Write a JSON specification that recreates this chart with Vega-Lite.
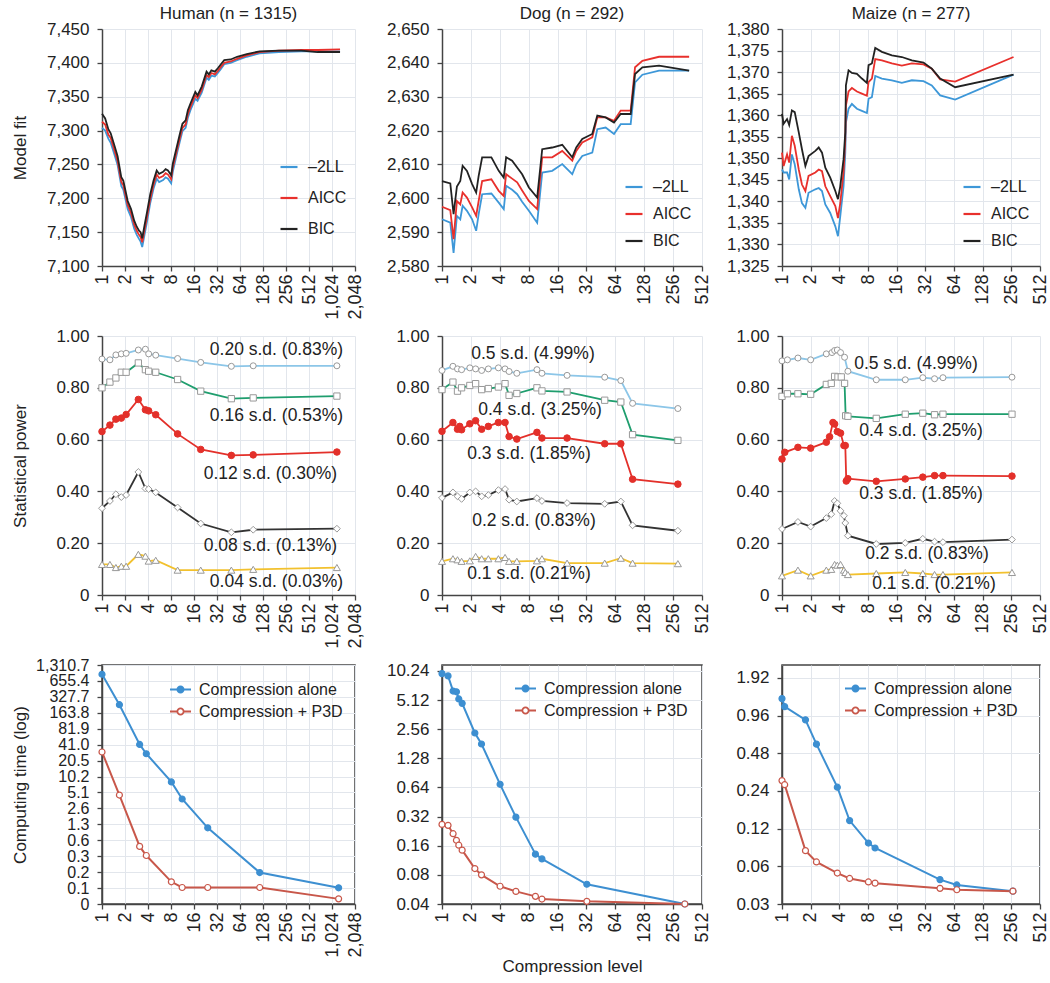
{
"$schema": "https://vega.github.io/schema/vega-lite/v6.json",
"padding": {"left": 10, "top": 5, "right": 5, "bottom": 5},
"background": "white",
"columns": 3,
"bounds": "flush",
"align": {"row": "each", "column": "all"},
"spacing": {"row": 70, "column": 80},
"resolve": {"scale": {"color": "independent", "fill": "independent", "stroke": "independent", "shape": "independent", "size": "independent"}, "legend": {"color": "independent"}},
"config": {
  "font": "Liberation Sans",
  "view": {"stroke": null},
  "axis": {"labelFontSize": 17, "titleFontSize": 17, "labelColor": "#222", "titleColor": "#222", "titleFontWeight": "normal", "domainColor": "#444", "domainWidth": 1.5, "tickColor": "#444", "tickSize": 5, "tickWidth": 1.3, "gridColor": "#e2e6ec", "gridWidth": 1, "labelFlush": false, "labelOverlap": false, "labelBound": false},
  "axisX": {"labelAngle": -90, "labelFontSize": 18, "labelPadding": 3},
  "axisY": {"labelPadding": 8},
  "title": {"fontSize": 17, "fontWeight": "normal", "color": "#222", "offset": -3, "frame": "group"},
  "legend": {"labelFontSize": 16, "labelColor": "#222", "padding": 0}
},
"concat": [
{
  "width": 253, "height": 237,
  "title": "Human (n = 1315)",
  "data": {"values": [
    {"x":1,"y":7304,"s":"–2LL"},{"x":1.1,"y":7300,"s":"–2LL"},{"x":1.21,"y":7288,"s":"–2LL"},{"x":1.3,"y":7282,"s":"–2LL"},{"x":1.47,"y":7263,"s":"–2LL"},{"x":1.6,"y":7249,"s":"–2LL"},{"x":1.79,"y":7218,"s":"–2LL"},{"x":1.9,"y":7213,"s":"–2LL"},{"x":2.17,"y":7184,"s":"–2LL"},{"x":2.4,"y":7172,"s":"–2LL"},{"x":2.64,"y":7155,"s":"–2LL"},{"x":2.85,"y":7146,"s":"–2LL"},{"x":3.05,"y":7140,"s":"–2LL"},{"x":3.2,"y":7136,"s":"–2LL"},{"x":3.36,"y":7128,"s":"–2LL"},{"x":3.6,"y":7146,"s":"–2LL"},{"x":3.89,"y":7166,"s":"–2LL"},{"x":4.28,"y":7193,"s":"–2LL"},{"x":4.72,"y":7214,"s":"–2LL"},{"x":5.2,"y":7229,"s":"–2LL"},{"x":5.6,"y":7224,"s":"–2LL"},{"x":6.31,"y":7227,"s":"–2LL"},{"x":6.8,"y":7231,"s":"–2LL"},{"x":7.3,"y":7229,"s":"–2LL"},{"x":8.04,"y":7222,"s":"–2LL"},{"x":8.44,"y":7239,"s":"–2LL"},{"x":9.76,"y":7270,"s":"–2LL"},{"x":10.5,"y":7285,"s":"–2LL"},{"x":11.29,"y":7299,"s":"–2LL"},{"x":12.43,"y":7304,"s":"–2LL"},{"x":13.3,"y":7319,"s":"–2LL"},{"x":14.38,"y":7330,"s":"–2LL"},{"x":16.64,"y":7347,"s":"–2LL"},{"x":17.8,"y":7344,"s":"–2LL"},{"x":20.19,"y":7356,"s":"–2LL"},{"x":23.35,"y":7378,"s":"–2LL"},{"x":25,"y":7375,"s":"–2LL"},{"x":27,"y":7381,"s":"–2LL"},{"x":30,"y":7380,"s":"–2LL"},{"x":32.79,"y":7385,"s":"–2LL"},{"x":36,"y":7391,"s":"–2LL"},{"x":39.8,"y":7398,"s":"–2LL"},{"x":48.3,"y":7400,"s":"–2LL"},{"x":58.6,"y":7404,"s":"–2LL"},{"x":78.5,"y":7409,"s":"–2LL"},{"x":115.6,"y":7414,"s":"–2LL"},{"x":206.8,"y":7416,"s":"–2LL"},{"x":407.6,"y":7417,"s":"–2LL"},{"x":662,"y":7417,"s":"–2LL"},{"x":1305,"y":7417,"s":"–2LL"},
    {"x":1,"y":7313,"s":"AICC"},{"x":1.1,"y":7309,"s":"AICC"},{"x":1.21,"y":7294,"s":"AICC"},{"x":1.3,"y":7289,"s":"AICC"},{"x":1.47,"y":7269,"s":"AICC"},{"x":1.6,"y":7255,"s":"AICC"},{"x":1.79,"y":7224,"s":"AICC"},{"x":1.9,"y":7219,"s":"AICC"},{"x":2.17,"y":7190,"s":"AICC"},{"x":2.4,"y":7178,"s":"AICC"},{"x":2.64,"y":7161,"s":"AICC"},{"x":2.85,"y":7152,"s":"AICC"},{"x":3.05,"y":7146,"s":"AICC"},{"x":3.2,"y":7143,"s":"AICC"},{"x":3.36,"y":7135,"s":"AICC"},{"x":3.6,"y":7153,"s":"AICC"},{"x":3.89,"y":7173,"s":"AICC"},{"x":4.28,"y":7199,"s":"AICC"},{"x":4.72,"y":7220,"s":"AICC"},{"x":5.2,"y":7235,"s":"AICC"},{"x":5.6,"y":7230,"s":"AICC"},{"x":6.31,"y":7233,"s":"AICC"},{"x":6.8,"y":7237,"s":"AICC"},{"x":7.3,"y":7235,"s":"AICC"},{"x":8.04,"y":7228,"s":"AICC"},{"x":8.44,"y":7245,"s":"AICC"},{"x":9.76,"y":7275,"s":"AICC"},{"x":10.5,"y":7290,"s":"AICC"},{"x":11.29,"y":7304,"s":"AICC"},{"x":12.43,"y":7309,"s":"AICC"},{"x":13.3,"y":7324,"s":"AICC"},{"x":14.38,"y":7335,"s":"AICC"},{"x":16.64,"y":7352,"s":"AICC"},{"x":17.8,"y":7348,"s":"AICC"},{"x":20.19,"y":7360,"s":"AICC"},{"x":23.35,"y":7382,"s":"AICC"},{"x":25,"y":7379,"s":"AICC"},{"x":27,"y":7385,"s":"AICC"},{"x":30,"y":7383,"s":"AICC"},{"x":32.79,"y":7388,"s":"AICC"},{"x":36,"y":7394,"s":"AICC"},{"x":39.8,"y":7400,"s":"AICC"},{"x":48.3,"y":7402,"s":"AICC"},{"x":58.6,"y":7406,"s":"AICC"},{"x":78.5,"y":7411,"s":"AICC"},{"x":115.6,"y":7416,"s":"AICC"},{"x":206.8,"y":7418,"s":"AICC"},{"x":407.6,"y":7419,"s":"AICC"},{"x":662,"y":7419,"s":"AICC"},{"x":1305,"y":7420,"s":"AICC"},
    {"x":1,"y":7325,"s":"BIC"},{"x":1.1,"y":7318,"s":"BIC"},{"x":1.21,"y":7302,"s":"BIC"},{"x":1.3,"y":7296,"s":"BIC"},{"x":1.47,"y":7276,"s":"BIC"},{"x":1.6,"y":7262,"s":"BIC"},{"x":1.79,"y":7231,"s":"BIC"},{"x":1.9,"y":7226,"s":"BIC"},{"x":2.17,"y":7196,"s":"BIC"},{"x":2.4,"y":7184,"s":"BIC"},{"x":2.64,"y":7167,"s":"BIC"},{"x":2.85,"y":7158,"s":"BIC"},{"x":3.05,"y":7152,"s":"BIC"},{"x":3.2,"y":7150,"s":"BIC"},{"x":3.36,"y":7141,"s":"BIC"},{"x":3.6,"y":7160,"s":"BIC"},{"x":3.89,"y":7180,"s":"BIC"},{"x":4.28,"y":7206,"s":"BIC"},{"x":4.72,"y":7226,"s":"BIC"},{"x":5.2,"y":7241,"s":"BIC"},{"x":5.6,"y":7236,"s":"BIC"},{"x":6.31,"y":7239,"s":"BIC"},{"x":6.8,"y":7243,"s":"BIC"},{"x":7.3,"y":7241,"s":"BIC"},{"x":8.04,"y":7234,"s":"BIC"},{"x":8.44,"y":7251,"s":"BIC"},{"x":9.76,"y":7281,"s":"BIC"},{"x":10.5,"y":7296,"s":"BIC"},{"x":11.29,"y":7310,"s":"BIC"},{"x":12.43,"y":7315,"s":"BIC"},{"x":13.3,"y":7330,"s":"BIC"},{"x":14.38,"y":7340,"s":"BIC"},{"x":16.64,"y":7357,"s":"BIC"},{"x":17.8,"y":7352,"s":"BIC"},{"x":20.19,"y":7365,"s":"BIC"},{"x":23.35,"y":7387,"s":"BIC"},{"x":25,"y":7383,"s":"BIC"},{"x":27,"y":7389,"s":"BIC"},{"x":30,"y":7387,"s":"BIC"},{"x":32.79,"y":7392,"s":"BIC"},{"x":36,"y":7398,"s":"BIC"},{"x":39.8,"y":7404,"s":"BIC"},{"x":48.3,"y":7405,"s":"BIC"},{"x":58.6,"y":7409,"s":"BIC"},{"x":78.5,"y":7413,"s":"BIC"},{"x":115.6,"y":7417,"s":"BIC"},{"x":206.8,"y":7418,"s":"BIC"},{"x":407.6,"y":7418,"s":"BIC"},{"x":662,"y":7416,"s":"BIC"},{"x":1305,"y":7416,"s":"BIC"}
  ]},
  "mark": {"type": "line", "strokeWidth": 1.8},
  "encoding": {
    "x": {"field": "x", "type": "quantitative", "scale": {"type": "log", "base": 2, "domain": [1, 2048], "nice": false}, "axis": {"values": [1,2,4,8,16,32,64,128,256,512,1024,2048], "format": ",d", "title": null}},
    "y": {"field": "y", "type": "quantitative", "scale": {"domain": [7100, 7450], "nice": false, "zero": false}, "axis": {"values": [7100,7150,7200,7250,7300,7350,7400,7450], "format": ",.0f", "title": "Model fit", "titleX": -73}},
    "color": {"field": "s", "type": "nominal", "scale": {"domain": ["–2LL","AICC","BIC"], "range": ["#3d97d8","#e8302c","#222222"]}, "legend": {"orient": "none", "legendX": 177, "legendY": 128, "title": null, "symbolType": "stroke", "symbolSize": 289, "symbolStrokeWidth": 2.2, "rowPadding": 13, "labelOffset": 9}}
  }
},
{
  "width": 260, "height": 237,
  "title": "Dog (n = 292)",
  "data": {"values": [
    {"x":1,"y":2593.8,"s":"–2LL"},{"x":1.22,"y":2592.8,"s":"–2LL"},{"x":1.32,"y":2583.9,"s":"–2LL"},{"x":1.43,"y":2594.8,"s":"–2LL"},{"x":1.55,"y":2593.8,"s":"–2LL"},{"x":1.64,"y":2597.8,"s":"–2LL"},{"x":1.82,"y":2596.3,"s":"–2LL"},{"x":2.06,"y":2593.8,"s":"–2LL"},{"x":2.27,"y":2590.4,"s":"–2LL"},{"x":2.41,"y":2595.3,"s":"–2LL"},{"x":2.62,"y":2601.2,"s":"–2LL"},{"x":3.27,"y":2601.4,"s":"–2LL"},{"x":3.9,"y":2598.7,"s":"–2LL"},{"x":4.4,"y":2596.8,"s":"–2LL"},{"x":4.66,"y":2603.7,"s":"–2LL"},{"x":5.38,"y":2602.5,"s":"–2LL"},{"x":6.07,"y":2601.2,"s":"–2LL"},{"x":6.84,"y":2599,"s":"–2LL"},{"x":8.04,"y":2596.3,"s":"–2LL"},{"x":9.81,"y":2592.8,"s":"–2LL"},{"x":11.07,"y":2607.6,"s":"–2LL"},{"x":14.07,"y":2608.1,"s":"–2LL"},{"x":17.9,"y":2610.1,"s":"–2LL"},{"x":22.77,"y":2607.1,"s":"–2LL"},{"x":25.06,"y":2610.1,"s":"–2LL"},{"x":28.95,"y":2612.5,"s":"–2LL"},{"x":36.81,"y":2613.5,"s":"–2LL"},{"x":41.52,"y":2620.4,"s":"–2LL"},{"x":50.73,"y":2620.9,"s":"–2LL"},{"x":62,"y":2619,"s":"–2LL"},{"x":72.76,"y":2621.9,"s":"–2LL"},{"x":92.5,"y":2621.9,"s":"–2LL"},{"x":102.7,"y":2634.2,"s":"–2LL"},{"x":122.5,"y":2636.5,"s":"–2LL"},{"x":182.8,"y":2637.7,"s":"–2LL"},{"x":376,"y":2637.7,"s":"–2LL"},
    {"x":1,"y":2597.5,"s":"AICC"},{"x":1.22,"y":2596.5,"s":"AICC"},{"x":1.32,"y":2587.9,"s":"AICC"},{"x":1.43,"y":2599.2,"s":"AICC"},{"x":1.55,"y":2598.2,"s":"AICC"},{"x":1.64,"y":2601.7,"s":"AICC"},{"x":1.82,"y":2600.2,"s":"AICC"},{"x":2.06,"y":2597.3,"s":"AICC"},{"x":2.27,"y":2594.8,"s":"AICC"},{"x":2.41,"y":2599.2,"s":"AICC"},{"x":2.62,"y":2605.1,"s":"AICC"},{"x":3.27,"y":2605.6,"s":"AICC"},{"x":3.9,"y":2602.2,"s":"AICC"},{"x":4.4,"y":2600.7,"s":"AICC"},{"x":4.66,"y":2607.1,"s":"AICC"},{"x":5.38,"y":2605.8,"s":"AICC"},{"x":6.07,"y":2604.7,"s":"AICC"},{"x":6.84,"y":2602.3,"s":"AICC"},{"x":8.04,"y":2599.2,"s":"AICC"},{"x":9.81,"y":2596.8,"s":"AICC"},{"x":11.07,"y":2612.1,"s":"AICC"},{"x":14.07,"y":2612.1,"s":"AICC"},{"x":17.9,"y":2614,"s":"AICC"},{"x":22.77,"y":2611.1,"s":"AICC"},{"x":25.06,"y":2614,"s":"AICC"},{"x":28.95,"y":2616.5,"s":"AICC"},{"x":36.81,"y":2618,"s":"AICC"},{"x":41.52,"y":2623.9,"s":"AICC"},{"x":50.73,"y":2623.9,"s":"AICC"},{"x":62,"y":2622.9,"s":"AICC"},{"x":72.76,"y":2625.9,"s":"AICC"},{"x":92.5,"y":2625.9,"s":"AICC"},{"x":102.7,"y":2638.7,"s":"AICC"},{"x":122.5,"y":2640.6,"s":"AICC"},{"x":182.8,"y":2641.8,"s":"AICC"},{"x":376,"y":2641.8,"s":"AICC"},
    {"x":1,"y":2605.1,"s":"BIC"},{"x":1.22,"y":2604.4,"s":"BIC"},{"x":1.32,"y":2595.3,"s":"BIC"},{"x":1.43,"y":2603.5,"s":"BIC"},{"x":1.55,"y":2605.1,"s":"BIC"},{"x":1.64,"y":2609.6,"s":"BIC"},{"x":1.82,"y":2608.1,"s":"BIC"},{"x":2.06,"y":2604.2,"s":"BIC"},{"x":2.27,"y":2601.7,"s":"BIC"},{"x":2.41,"y":2606.6,"s":"BIC"},{"x":2.62,"y":2612.1,"s":"BIC"},{"x":3.27,"y":2612.1,"s":"BIC"},{"x":3.9,"y":2608.1,"s":"BIC"},{"x":4.4,"y":2606.1,"s":"BIC"},{"x":4.66,"y":2612.1,"s":"BIC"},{"x":5.38,"y":2611.1,"s":"BIC"},{"x":6.07,"y":2609.1,"s":"BIC"},{"x":6.84,"y":2607.1,"s":"BIC"},{"x":8.04,"y":2603.2,"s":"BIC"},{"x":9.81,"y":2600.2,"s":"BIC"},{"x":11.07,"y":2614.5,"s":"BIC"},{"x":14.07,"y":2615,"s":"BIC"},{"x":17.9,"y":2615.8,"s":"BIC"},{"x":22.77,"y":2612.1,"s":"BIC"},{"x":25.06,"y":2615,"s":"BIC"},{"x":28.95,"y":2617.5,"s":"BIC"},{"x":36.81,"y":2619,"s":"BIC"},{"x":41.52,"y":2624.4,"s":"BIC"},{"x":50.73,"y":2623.9,"s":"BIC"},{"x":62,"y":2622.4,"s":"BIC"},{"x":72.76,"y":2624.9,"s":"BIC"},{"x":92.5,"y":2624.9,"s":"BIC"},{"x":102.7,"y":2636.7,"s":"BIC"},{"x":122.5,"y":2638.7,"s":"BIC"},{"x":182.8,"y":2639.2,"s":"BIC"},{"x":376,"y":2637.7,"s":"BIC"}
  ]},
  "mark": {"type": "line", "strokeWidth": 1.8},
  "encoding": {
    "x": {"field": "x", "type": "quantitative", "scale": {"type": "log", "base": 2, "domain": [1, 512], "nice": false}, "axis": {"values": [1,2,4,8,16,32,64,128,256,512], "format": ",d", "title": null}},
    "y": {"field": "y", "type": "quantitative", "scale": {"domain": [2580, 2650], "nice": false, "zero": false}, "axis": {"values": [2580,2590,2600,2610,2620,2630,2640,2650], "format": ",.0f", "title": null}},
    "color": {"field": "s", "type": "nominal", "scale": {"domain": ["–2LL","AICC","BIC"], "range": ["#3d97d8","#e8302c","#222222"]}, "legend": {"orient": "none", "legendX": 182, "legendY": 148, "title": null, "symbolType": "stroke", "symbolSize": 289, "symbolStrokeWidth": 2.2, "rowPadding": 9, "labelOffset": 9}}
  }
},
{
  "width": 258, "height": 237,
  "title": "Maize (n = 277)",
  "data": {"values": [
    {"x":1,"y":1347.4,"s":"–2LL"},{"x":1.04,"y":1346.7,"s":"–2LL"},{"x":1.13,"y":1346.7,"s":"–2LL"},{"x":1.19,"y":1345.1,"s":"–2LL"},{"x":1.27,"y":1350.9,"s":"–2LL"},{"x":1.36,"y":1348.6,"s":"–2LL"},{"x":1.5,"y":1342.8,"s":"–2LL"},{"x":1.62,"y":1339.6,"s":"–2LL"},{"x":1.76,"y":1338.5,"s":"–2LL"},{"x":1.9,"y":1342,"s":"–2LL"},{"x":2.24,"y":1342.8,"s":"–2LL"},{"x":2.43,"y":1343.1,"s":"–2LL"},{"x":2.63,"y":1342.4,"s":"–2LL"},{"x":2.85,"y":1339.3,"s":"–2LL"},{"x":3.21,"y":1337.3,"s":"–2LL"},{"x":3.63,"y":1334.2,"s":"–2LL"},{"x":3.87,"y":1331.9,"s":"–2LL"},{"x":4.09,"y":1336.5,"s":"–2LL"},{"x":4.43,"y":1343.5,"s":"–2LL"},{"x":4.62,"y":1351.3,"s":"–2LL"},{"x":4.69,"y":1358.3,"s":"–2LL"},{"x":5,"y":1361.5,"s":"–2LL"},{"x":5.42,"y":1362.6,"s":"–2LL"},{"x":6.12,"y":1361.5,"s":"–2LL"},{"x":6.9,"y":1361,"s":"–2LL"},{"x":7.79,"y":1360.5,"s":"–2LL"},{"x":8.11,"y":1363.8,"s":"–2LL"},{"x":8.79,"y":1364.2,"s":"–2LL"},{"x":9.53,"y":1369.1,"s":"–2LL"},{"x":11.19,"y":1368.5,"s":"–2LL"},{"x":14.25,"y":1368.1,"s":"–2LL"},{"x":18.14,"y":1367.5,"s":"–2LL"},{"x":23.1,"y":1368.1,"s":"–2LL"},{"x":30.6,"y":1367.9,"s":"–2LL"},{"x":37.4,"y":1366.9,"s":"–2LL"},{"x":45.8,"y":1364.6,"s":"–2LL"},{"x":65.8,"y":1363.6,"s":"–2LL"},{"x":270,"y":1369.4,"s":"–2LL"},
    {"x":1,"y":1351.3,"s":"AICC"},{"x":1.04,"y":1348.2,"s":"AICC"},{"x":1.13,"y":1350.9,"s":"AICC"},{"x":1.19,"y":1349,"s":"AICC"},{"x":1.27,"y":1355.2,"s":"AICC"},{"x":1.36,"y":1352.9,"s":"AICC"},{"x":1.5,"y":1347.4,"s":"AICC"},{"x":1.62,"y":1343.9,"s":"AICC"},{"x":1.76,"y":1342.4,"s":"AICC"},{"x":1.9,"y":1345.9,"s":"AICC"},{"x":2.24,"y":1346.7,"s":"AICC"},{"x":2.43,"y":1347.4,"s":"AICC"},{"x":2.63,"y":1347,"s":"AICC"},{"x":2.85,"y":1343.5,"s":"AICC"},{"x":3.21,"y":1341.2,"s":"AICC"},{"x":3.63,"y":1338.9,"s":"AICC"},{"x":3.87,"y":1336.1,"s":"AICC"},{"x":4.09,"y":1339.6,"s":"AICC"},{"x":4.43,"y":1346.7,"s":"AICC"},{"x":4.62,"y":1354.4,"s":"AICC"},{"x":4.69,"y":1362.2,"s":"AICC"},{"x":5,"y":1365.5,"s":"AICC"},{"x":5.42,"y":1366.3,"s":"AICC"},{"x":6.12,"y":1365.5,"s":"AICC"},{"x":6.9,"y":1365,"s":"AICC"},{"x":7.79,"y":1364.5,"s":"AICC"},{"x":8.11,"y":1367.7,"s":"AICC"},{"x":8.79,"y":1368.5,"s":"AICC"},{"x":9.53,"y":1373,"s":"AICC"},{"x":11.19,"y":1372.7,"s":"AICC"},{"x":14.25,"y":1372,"s":"AICC"},{"x":18.14,"y":1371.5,"s":"AICC"},{"x":23.1,"y":1372,"s":"AICC"},{"x":30.6,"y":1371.8,"s":"AICC"},{"x":37.4,"y":1370.8,"s":"AICC"},{"x":45.8,"y":1368.3,"s":"AICC"},{"x":65.8,"y":1367.8,"s":"AICC"},{"x":270,"y":1373.5,"s":"AICC"},
    {"x":1,"y":1360.3,"s":"BIC"},{"x":1.04,"y":1358,"s":"BIC"},{"x":1.13,"y":1359.1,"s":"BIC"},{"x":1.19,"y":1357.7,"s":"BIC"},{"x":1.27,"y":1361.1,"s":"BIC"},{"x":1.36,"y":1360.7,"s":"BIC"},{"x":1.5,"y":1356,"s":"BIC"},{"x":1.62,"y":1352.1,"s":"BIC"},{"x":1.76,"y":1348.2,"s":"BIC"},{"x":1.9,"y":1350.5,"s":"BIC"},{"x":2.24,"y":1351.7,"s":"BIC"},{"x":2.43,"y":1352.5,"s":"BIC"},{"x":2.63,"y":1351.3,"s":"BIC"},{"x":2.85,"y":1347.8,"s":"BIC"},{"x":3.21,"y":1345.5,"s":"BIC"},{"x":3.63,"y":1342.4,"s":"BIC"},{"x":3.87,"y":1340.5,"s":"BIC"},{"x":4.09,"y":1343.5,"s":"BIC"},{"x":4.43,"y":1349.8,"s":"BIC"},{"x":4.62,"y":1356,"s":"BIC"},{"x":4.69,"y":1366.9,"s":"BIC"},{"x":5,"y":1370.4,"s":"BIC"},{"x":5.42,"y":1369.8,"s":"BIC"},{"x":6.12,"y":1369.6,"s":"BIC"},{"x":6.9,"y":1368.5,"s":"BIC"},{"x":7.79,"y":1367.5,"s":"BIC"},{"x":8.11,"y":1371.6,"s":"BIC"},{"x":8.79,"y":1372,"s":"BIC"},{"x":9.53,"y":1375.6,"s":"BIC"},{"x":11.19,"y":1374.7,"s":"BIC"},{"x":14.25,"y":1373.9,"s":"BIC"},{"x":18.14,"y":1373.5,"s":"BIC"},{"x":23.1,"y":1372.7,"s":"BIC"},{"x":30.6,"y":1372.2,"s":"BIC"},{"x":37.4,"y":1370.8,"s":"BIC"},{"x":45.8,"y":1368.5,"s":"BIC"},{"x":65.8,"y":1366.5,"s":"BIC"},{"x":270,"y":1369.4,"s":"BIC"}
  ]},
  "mark": {"type": "line", "strokeWidth": 1.8},
  "encoding": {
    "x": {"field": "x", "type": "quantitative", "scale": {"type": "log", "base": 2, "domain": [1, 512], "nice": false}, "axis": {"values": [1,2,4,8,16,32,64,128,256,512], "format": ",d", "title": null}},
    "y": {"field": "y", "type": "quantitative", "scale": {"domain": [1325, 1380], "nice": false, "zero": false}, "axis": {"values": [1325,1330,1335,1340,1345,1350,1355,1360,1365,1370,1375,1380], "format": ",.0f", "title": null}},
    "color": {"field": "s", "type": "nominal", "scale": {"domain": ["–2LL","AICC","BIC"], "range": ["#3d97d8","#e8302c","#222222"]}, "legend": {"orient": "none", "legendX": 180, "legendY": 148, "title": null, "symbolType": "stroke", "symbolSize": 289, "symbolStrokeWidth": 2.2, "rowPadding": 9, "labelOffset": 9}}
  }
},
{
  "width": 253, "height": 259,
  "data": {"values": [
    {"x":1,"y":0.911,"s":"a"},{"x":1.27,"y":0.908,"s":"a"},{"x":1.52,"y":0.927,"s":"a"},{"x":1.79,"y":0.931,"s":"a"},{"x":2.07,"y":0.933,"s":"a"},{"x":2.99,"y":0.946,"s":"a"},{"x":3.7,"y":0.949,"s":"a"},{"x":4.08,"y":0.931,"s":"a"},{"x":5.05,"y":0.926,"s":"a"},{"x":9.76,"y":0.913,"s":"a"},{"x":19.6,"y":0.898,"s":"a"},{"x":49.3,"y":0.883,"s":"a"},{"x":95.3,"y":0.885,"s":"a"},{"x":1187,"y":0.885,"s":"a"},
    {"x":1,"y":0.8,"s":"b"},{"x":1.27,"y":0.822,"s":"b"},{"x":1.52,"y":0.838,"s":"b"},{"x":1.79,"y":0.86,"s":"b"},{"x":2.07,"y":0.86,"s":"b"},{"x":2.99,"y":0.896,"s":"b"},{"x":3.7,"y":0.87,"s":"b"},{"x":4.08,"y":0.864,"s":"b"},{"x":5.05,"y":0.86,"s":"b"},{"x":9.76,"y":0.832,"s":"b"},{"x":19.6,"y":0.787,"s":"b"},{"x":49.3,"y":0.758,"s":"b"},{"x":95.3,"y":0.761,"s":"b"},{"x":1187,"y":0.768,"s":"b"},
    {"x":1,"y":0.631,"s":"c"},{"x":1.27,"y":0.656,"s":"c"},{"x":1.52,"y":0.679,"s":"c"},{"x":1.79,"y":0.683,"s":"c"},{"x":2.07,"y":0.697,"s":"c"},{"x":2.99,"y":0.755,"s":"c"},{"x":3.7,"y":0.715,"s":"c"},{"x":4.08,"y":0.711,"s":"c"},{"x":5.05,"y":0.696,"s":"c"},{"x":9.76,"y":0.622,"s":"c"},{"x":19.6,"y":0.562,"s":"c"},{"x":49.3,"y":0.539,"s":"c"},{"x":95.3,"y":0.541,"s":"c"},{"x":1187,"y":0.552,"s":"c"},
    {"x":1,"y":0.335,"s":"d"},{"x":1.27,"y":0.363,"s":"d"},{"x":1.52,"y":0.389,"s":"d"},{"x":1.79,"y":0.378,"s":"d"},{"x":2.07,"y":0.386,"s":"d"},{"x":2.99,"y":0.475,"s":"d"},{"x":3.7,"y":0.411,"s":"d"},{"x":4.08,"y":0.409,"s":"d"},{"x":5.05,"y":0.396,"s":"d"},{"x":9.76,"y":0.338,"s":"d"},{"x":19.6,"y":0.276,"s":"d"},{"x":49.3,"y":0.242,"s":"d"},{"x":95.3,"y":0.252,"s":"d"},{"x":1187,"y":0.256,"s":"d"},
    {"x":1,"y":0.118,"s":"e"},{"x":1.27,"y":0.118,"s":"e"},{"x":1.52,"y":0.106,"s":"e"},{"x":1.79,"y":0.111,"s":"e"},{"x":2.07,"y":0.111,"s":"e"},{"x":2.99,"y":0.157,"s":"e"},{"x":3.7,"y":0.15,"s":"e"},{"x":4.08,"y":0.131,"s":"e"},{"x":5.05,"y":0.134,"s":"e"},{"x":9.76,"y":0.096,"s":"e"},{"x":19.6,"y":0.096,"s":"e"},{"x":49.3,"y":0.096,"s":"e"},{"x":95.3,"y":0.099,"s":"e"},{"x":1187,"y":0.106,"s":"e"}
  ]},
  "encoding": {
    "x": {"field": "x", "type": "quantitative", "scale": {"type": "log", "base": 2, "domain": [1, 2048], "nice": false}, "axis": {"values": [1,2,4,8,16,32,64,128,256,512,1024,2048], "format": ",d", "title": null}},
    "y": {"field": "y", "type": "quantitative", "scale": {"domain": [0, 1], "nice": false}, "axis": {"values": [0,0.2,0.4,0.6,0.8,1], "labelExpr": "datum.value == 0 ? '0' : format(datum.value, '.2f')", "title": "Statistical power", "titleX": -73}}
  },
  "layer": [
    {"mark": {"type": "line", "strokeWidth": 1.8}, "encoding": {"color": {"field": "s", "type": "nominal", "scale": {"domain": ["a","b","c","d","e"], "range": ["#8cc6e8","#1f9e6e","#e3302a","#333333","#f2c12e"]}, "legend": null}}},
    {"mark": {"type": "point", "filled": true, "strokeWidth": 1, "opacity": 1}, "encoding": {
      "shape": {"field": "s", "type": "nominal", "scale": {"domain": ["a","b","c","d","e"], "range": ["circle","square","circle","diamond","triangle-up"]}, "legend": null},
      "fill": {"field": "s", "type": "nominal", "scale": {"domain": ["a","b","c","d","e"], "range": ["#ffffff","#ffffff","#e3302a","#ffffff","#ffffff"]}, "legend": null},
      "stroke": {"field": "s", "type": "nominal", "scale": {"domain": ["a","b","c","d","e"], "range": ["#999999","#999999","#e3302a","#999999","#999999"]}, "legend": null},
      "size": {"field": "s", "type": "ordinal", "scale": {"domain": ["a","b","c","d","e"], "range": [36,50,9,28,36]}, "legend": null}}},
    {"data": {"values": [
      {"x":192,"y":0.947,"t":"0.20 s.d. (0.83%)"},{"x":192,"y":0.691,"t":"0.16 s.d. (0.53%)"},{"x":160,"y":0.469,"t":"0.12 s.d. (0.30%)"},{"x":160,"y":0.191,"t":"0.08 s.d. (0.13%)"},{"x":192,"y":0.05,"t":"0.04 s.d. (0.03%)"}
    ]}, "mark": {"type": "text", "fontSize": 17.5, "color": "#222", "align": "center", "baseline": "middle"}, "encoding": {"text": {"field": "t"}}}
  ]
},
{
  "width": 260, "height": 259,
  "data": {"values": [
    {"x":1,"y":0.867,"s":"a"},{"x":1.3,"y":0.883,"s":"a"},{"x":1.45,"y":0.873,"s":"a"},{"x":1.6,"y":0.87,"s":"a"},{"x":1.95,"y":0.877,"s":"a"},{"x":2.24,"y":0.873,"s":"a"},{"x":2.59,"y":0.867,"s":"a"},{"x":3.04,"y":0.873,"s":"a"},{"x":3.87,"y":0.877,"s":"a"},{"x":4.54,"y":0.873,"s":"a"},{"x":5,"y":0.863,"s":"a"},{"x":6.02,"y":0.856,"s":"a"},{"x":9.76,"y":0.87,"s":"a"},{"x":11,"y":0.856,"s":"a"},{"x":20.1,"y":0.848,"s":"a"},{"x":49.6,"y":0.841,"s":"a"},{"x":73,"y":0.828,"s":"a"},{"x":96.8,"y":0.74,"s":"a"},{"x":287,"y":0.72,"s":"a"},
    {"x":1,"y":0.793,"s":"b"},{"x":1.3,"y":0.822,"s":"b"},{"x":1.45,"y":0.787,"s":"b"},{"x":1.6,"y":0.8,"s":"b"},{"x":1.95,"y":0.809,"s":"b"},{"x":2.24,"y":0.816,"s":"b"},{"x":2.59,"y":0.793,"s":"b"},{"x":3.04,"y":0.797,"s":"b"},{"x":3.87,"y":0.803,"s":"b"},{"x":4.54,"y":0.816,"s":"b"},{"x":5,"y":0.771,"s":"b"},{"x":6.02,"y":0.778,"s":"b"},{"x":9.76,"y":0.8,"s":"b"},{"x":11,"y":0.788,"s":"b"},{"x":20.1,"y":0.784,"s":"b"},{"x":49.6,"y":0.752,"s":"b"},{"x":73,"y":0.745,"s":"b"},{"x":96.8,"y":0.619,"s":"b"},{"x":287,"y":0.597,"s":"b"},
    {"x":1,"y":0.632,"s":"c"},{"x":1.3,"y":0.666,"s":"c"},{"x":1.45,"y":0.64,"s":"c"},{"x":1.53,"y":0.651,"s":"c"},{"x":1.6,"y":0.638,"s":"c"},{"x":1.95,"y":0.661,"s":"c"},{"x":2.24,"y":0.673,"s":"c"},{"x":2.59,"y":0.64,"s":"c"},{"x":3.04,"y":0.651,"s":"c"},{"x":3.87,"y":0.666,"s":"c"},{"x":4.54,"y":0.666,"s":"c"},{"x":5,"y":0.612,"s":"c"},{"x":6.02,"y":0.602,"s":"c"},{"x":9.76,"y":0.628,"s":"c"},{"x":11,"y":0.606,"s":"c"},{"x":20.1,"y":0.606,"s":"c"},{"x":49.6,"y":0.584,"s":"c"},{"x":73,"y":0.584,"s":"c"},{"x":96.8,"y":0.447,"s":"c"},{"x":287,"y":0.428,"s":"c"},
    {"x":1,"y":0.375,"s":"d"},{"x":1.3,"y":0.396,"s":"d"},{"x":1.45,"y":0.381,"s":"d"},{"x":1.6,"y":0.371,"s":"d"},{"x":1.95,"y":0.396,"s":"d"},{"x":2.24,"y":0.4,"s":"d"},{"x":2.59,"y":0.381,"s":"d"},{"x":3.04,"y":0.386,"s":"d"},{"x":3.87,"y":0.405,"s":"d"},{"x":4.54,"y":0.409,"s":"d"},{"x":5,"y":0.368,"s":"d"},{"x":6.02,"y":0.361,"s":"d"},{"x":9.76,"y":0.374,"s":"d"},{"x":11,"y":0.363,"s":"d"},{"x":20.1,"y":0.355,"s":"d"},{"x":49.6,"y":0.352,"s":"d"},{"x":73,"y":0.361,"s":"d"},{"x":96.8,"y":0.269,"s":"d"},{"x":287,"y":0.248,"s":"d"},
    {"x":1,"y":0.13,"s":"e"},{"x":1.3,"y":0.14,"s":"e"},{"x":1.45,"y":0.136,"s":"e"},{"x":1.6,"y":0.13,"s":"e"},{"x":1.95,"y":0.132,"s":"e"},{"x":2.24,"y":0.149,"s":"e"},{"x":2.59,"y":0.14,"s":"e"},{"x":3.04,"y":0.14,"s":"e"},{"x":3.87,"y":0.14,"s":"e"},{"x":4.54,"y":0.145,"s":"e"},{"x":5,"y":0.13,"s":"e"},{"x":6.02,"y":0.13,"s":"e"},{"x":9.76,"y":0.132,"s":"e"},{"x":11,"y":0.14,"s":"e"},{"x":20.1,"y":0.123,"s":"e"},{"x":49.6,"y":0.123,"s":"e"},{"x":73,"y":0.142,"s":"e"},{"x":96.8,"y":0.123,"s":"e"},{"x":287,"y":0.121,"s":"e"}
  ]},
  "encoding": {
    "x": {"field": "x", "type": "quantitative", "scale": {"type": "log", "base": 2, "domain": [1, 512], "nice": false}, "axis": {"values": [1,2,4,8,16,32,64,128,256,512], "format": ",d", "title": null}},
    "y": {"field": "y", "type": "quantitative", "scale": {"domain": [0, 1], "nice": false}, "axis": {"values": [0,0.2,0.4,0.6,0.8,1], "labelExpr": "datum.value == 0 ? '0' : format(datum.value, '.2f')", "title": null}}
  },
  "layer": [
    {"mark": {"type": "line", "strokeWidth": 1.8}, "encoding": {"color": {"field": "s", "type": "nominal", "scale": {"domain": ["a","b","c","d","e"], "range": ["#8cc6e8","#1f9e6e","#e3302a","#333333","#f2c12e"]}, "legend": null}}},
    {"mark": {"type": "point", "filled": true, "strokeWidth": 1, "opacity": 1}, "encoding": {
      "shape": {"field": "s", "type": "nominal", "scale": {"domain": ["a","b","c","d","e"], "range": ["circle","square","circle","diamond","triangle-up"]}, "legend": null},
      "fill": {"field": "s", "type": "nominal", "scale": {"domain": ["a","b","c","d","e"], "range": ["#ffffff","#ffffff","#e3302a","#ffffff","#ffffff"]}, "legend": null},
      "stroke": {"field": "s", "type": "nominal", "scale": {"domain": ["a","b","c","d","e"], "range": ["#999999","#999999","#e3302a","#999999","#999999"]}, "legend": null},
      "size": {"field": "s", "type": "ordinal", "scale": {"domain": ["a","b","c","d","e"], "range": [36,50,9,28,36]}, "legend": null}}},
    {"data": {"values": [
      {"x":8.87,"y":0.931,"t":"0.5 s.d. (4.99%)"},{"x":10.5,"y":0.714,"t":"0.4 s.d. (3.25%)"},{"x":8.06,"y":0.546,"t":"0.3 s.d. (1.85%)"},{"x":9.08,"y":0.286,"t":"0.2 s.d. (0.83%)"},{"x":8.06,"y":0.08,"t":"0.1 s.d. (0.21%)"}
    ]}, "mark": {"type": "text", "fontSize": 17.5, "color": "#222", "align": "center", "baseline": "middle"}, "encoding": {"text": {"field": "t"}}}
  ]
},
{
  "width": 258, "height": 259,
  "data": {"values": [
    {"x":1,"y":0.904,"s":"a"},{"x":1.14,"y":0.908,"s":"a"},{"x":1.47,"y":0.915,"s":"a"},{"x":2,"y":0.908,"s":"a"},{"x":2.92,"y":0.931,"s":"a"},{"x":3.35,"y":0.936,"s":"a"},{"x":3.57,"y":0.944,"s":"a"},{"x":3.81,"y":0.946,"s":"a"},{"x":4.12,"y":0.936,"s":"a"},{"x":4.54,"y":0.918,"s":"a"},{"x":4.92,"y":0.864,"s":"a"},{"x":9.77,"y":0.831,"s":"a"},{"x":19.7,"y":0.831,"s":"a"},{"x":30.1,"y":0.839,"s":"a"},{"x":40,"y":0.835,"s":"a"},{"x":49,"y":0.839,"s":"a"},{"x":260,"y":0.841,"s":"a"},
    {"x":1,"y":0.767,"s":"b"},{"x":1.14,"y":0.777,"s":"b"},{"x":1.47,"y":0.777,"s":"b"},{"x":2,"y":0.775,"s":"b"},{"x":2.92,"y":0.813,"s":"b"},{"x":3.29,"y":0.817,"s":"b"},{"x":3.57,"y":0.844,"s":"b"},{"x":3.87,"y":0.842,"s":"b"},{"x":4.19,"y":0.842,"s":"b"},{"x":4.54,"y":0.817,"s":"b"},{"x":4.66,"y":0.692,"s":"b"},{"x":4.92,"y":0.69,"s":"b"},{"x":9.77,"y":0.682,"s":"b"},{"x":19.7,"y":0.698,"s":"b"},{"x":30.1,"y":0.702,"s":"b"},{"x":40,"y":0.696,"s":"b"},{"x":49,"y":0.698,"s":"b"},{"x":260,"y":0.698,"s":"b"},
    {"x":1,"y":0.525,"s":"c"},{"x":1.07,"y":0.551,"s":"c"},{"x":1.47,"y":0.57,"s":"c"},{"x":2,"y":0.567,"s":"c"},{"x":2.92,"y":0.59,"s":"c"},{"x":3.16,"y":0.611,"s":"c"},{"x":3.43,"y":0.666,"s":"c"},{"x":3.57,"y":0.66,"s":"c"},{"x":3.81,"y":0.631,"s":"c"},{"x":4.12,"y":0.625,"s":"c"},{"x":4.47,"y":0.577,"s":"c"},{"x":4.62,"y":0.577,"s":"c"},{"x":4.73,"y":0.44,"s":"c"},{"x":4.92,"y":0.449,"s":"c"},{"x":9.77,"y":0.439,"s":"c"},{"x":19.7,"y":0.448,"s":"c"},{"x":30.1,"y":0.455,"s":"c"},{"x":40,"y":0.461,"s":"c"},{"x":49,"y":0.461,"s":"c"},{"x":260,"y":0.459,"s":"c"},
    {"x":1,"y":0.255,"s":"d"},{"x":1.47,"y":0.282,"s":"d"},{"x":2,"y":0.264,"s":"d"},{"x":2.92,"y":0.297,"s":"d"},{"x":3.29,"y":0.312,"s":"d"},{"x":3.57,"y":0.363,"s":"d"},{"x":3.81,"y":0.354,"s":"d"},{"x":4.12,"y":0.325,"s":"d"},{"x":4.47,"y":0.306,"s":"d"},{"x":4.62,"y":0.278,"s":"d"},{"x":4.92,"y":0.229,"s":"d"},{"x":9.77,"y":0.197,"s":"d"},{"x":19.7,"y":0.201,"s":"d"},{"x":30.1,"y":0.217,"s":"d"},{"x":40,"y":0.206,"s":"d"},{"x":49,"y":0.204,"s":"d"},{"x":260,"y":0.214,"s":"d"},
    {"x":1,"y":0.074,"s":"e"},{"x":1.47,"y":0.096,"s":"e"},{"x":2,"y":0.074,"s":"e"},{"x":2.92,"y":0.096,"s":"e"},{"x":3.29,"y":0.099,"s":"e"},{"x":3.57,"y":0.118,"s":"e"},{"x":3.81,"y":0.115,"s":"e"},{"x":4.12,"y":0.118,"s":"e"},{"x":4.47,"y":0.096,"s":"e"},{"x":4.62,"y":0.087,"s":"e"},{"x":4.92,"y":0.079,"s":"e"},{"x":9.77,"y":0.083,"s":"e"},{"x":19.7,"y":0.087,"s":"e"},{"x":30.1,"y":0.083,"s":"e"},{"x":40,"y":0.079,"s":"e"},{"x":49,"y":0.079,"s":"e"},{"x":260,"y":0.087,"s":"e"}
  ]},
  "encoding": {
    "x": {"field": "x", "type": "quantitative", "scale": {"type": "log", "base": 2, "domain": [1, 512], "nice": false}, "axis": {"values": [1,2,4,8,16,32,64,128,256,512], "format": ",d", "title": null}},
    "y": {"field": "y", "type": "quantitative", "scale": {"domain": [0, 1], "nice": false}, "axis": {"values": [0,0.2,0.4,0.6,0.8,1], "labelExpr": "datum.value == 0 ? '0' : format(datum.value, '.2f')", "title": null}}
  },
  "layer": [
    {"mark": {"type": "line", "strokeWidth": 1.8}, "encoding": {"color": {"field": "s", "type": "nominal", "scale": {"domain": ["a","b","c","d","e"], "range": ["#8cc6e8","#1f9e6e","#e3302a","#333333","#f2c12e"]}, "legend": null}}},
    {"mark": {"type": "point", "filled": true, "strokeWidth": 1, "opacity": 1}, "encoding": {
      "shape": {"field": "s", "type": "nominal", "scale": {"domain": ["a","b","c","d","e"], "range": ["circle","square","circle","diamond","triangle-up"]}, "legend": null},
      "fill": {"field": "s", "type": "nominal", "scale": {"domain": ["a","b","c","d","e"], "range": ["#ffffff","#ffffff","#e3302a","#ffffff","#ffffff"]}, "legend": null},
      "stroke": {"field": "s", "type": "nominal", "scale": {"domain": ["a","b","c","d","e"], "range": ["#999999","#999999","#e3302a","#999999","#999999"]}, "legend": null},
      "size": {"field": "s", "type": "ordinal", "scale": {"domain": ["a","b","c","d","e"], "range": [36,50,9,28,36]}, "legend": null}}},
    {"data": {"values": [
      {"x":25.5,"y":0.893,"t":"0.5 s.d. (4.99%)"},{"x":28.8,"y":0.633,"t":"0.4 s.d. (3.25%)"},{"x":28.8,"y":0.389,"t":"0.3 s.d. (1.85%)"},{"x":33.3,"y":0.159,"t":"0.2 s.d. (0.83%)"},{"x":39.4,"y":0.044,"t":"0.1 s.d. (0.21%)"}
    ]}, "mark": {"type": "text", "fontSize": 17.5, "color": "#222", "align": "center", "baseline": "middle"}, "encoding": {"text": {"field": "t"}}}
  ]
},
{
  "width": 253, "height": 239,
  "view": {"stroke": "#444", "strokeWidth": 1.5},
  "data": {"values": [
    {"x":1,"y":876,"s":"Compression alone"},{"x":1.69,"y":233,"s":"Compression alone"},{"x":3.11,"y":41.4,"s":"Compression alone"},{"x":3.8,"y":27.6,"s":"Compression alone"},{"x":8.09,"y":8.1,"s":"Compression alone"},{"x":11.2,"y":3.85,"s":"Compression alone"},{"x":24.2,"y":1.1,"s":"Compression alone"},{"x":116,"y":0.157,"s":"Compression alone"},{"x":1250,"y":0.081,"s":"Compression alone"},
    {"x":1,"y":29.8,"s":"Compression + P3D"},{"x":1.69,"y":4.57,"s":"Compression + P3D"},{"x":3.11,"y":0.49,"s":"Compression + P3D"},{"x":3.8,"y":0.33,"s":"Compression + P3D"},{"x":8.09,"y":0.105,"s":"Compression + P3D"},{"x":11.2,"y":0.082,"s":"Compression + P3D"},{"x":24.2,"y":0.082,"s":"Compression + P3D"},{"x":116,"y":0.082,"s":"Compression + P3D"},{"x":1250,"y":0.05,"s":"Compression + P3D"}
  ]},
  "encoding": {
    "x": {"field": "x", "type": "quantitative", "scale": {"type": "log", "base": 2, "domain": [1, 2048], "nice": false}, "axis": {"values": [1,2,4,8,16,32,64,128,256,512,1024,2048], "format": ",d", "title": null}},
    "y": {"field": "y", "type": "quantitative", "scale": {"type": "log", "base": 2, "domain": [0.04, 1310.72], "nice": false}, "axis": {"values": [0.04,0.08,0.16,0.32,0.64,1.28,2.56,5.12,10.24,20.48,40.96,81.92,163.84,327.68,655.36,1310.72], "labelExpr": "datum.value < 0.05 ? '0' : format(datum.value, ',.1f')", "labelFontSize": 16, "title": "Computing time (log)", "titleX": -73}}
  },
  "layer": [
    {"mark": {"type": "line", "strokeWidth": 2}, "encoding": {"color": {"field": "s", "type": "nominal", "scale": {"domain": ["Compression alone","Compression + P3D"], "range": ["#3d8fd1","#c8574a"]}, "legend": {"orient": "none", "legendX": 67, "legendY": 13, "title": null, "symbolType": "M-1,0H-0.3M0.3,0H1M0.3,0A0.3,0.3,0,1,1,-0.3,0A0.3,0.3,0,1,1,0.3,0", "symbolSize": 441, "symbolStrokeWidth": 1.8, "rowPadding": 2, "labelOffset": 7, "encode": {"symbols": {"update": {"fill": {"signal": "datum.value == 'Compression alone' ? '#3d8fd1' : '#ffffff'"}, "stroke": {"signal": "datum.value == 'Compression alone' ? '#3d8fd1' : '#c8574a'"}}}}}}}},
    {"mark": {"type": "point", "filled": true, "size": 36, "strokeWidth": 1.2, "opacity": 1}, "encoding": {
      "fill": {"field": "s", "type": "nominal", "scale": {"domain": ["Compression alone","Compression + P3D"], "range": ["#3d8fd1","#ffffff"]}, "legend": null},
      "stroke": {"field": "s", "type": "nominal", "scale": {"domain": ["Compression alone","Compression + P3D"], "range": ["#3d8fd1","#c8574a"]}, "legend": null}}}
  ]
},
{
  "width": 260, "height": 239,
  "view": {"stroke": "#444", "strokeWidth": 1.5},
  "data": {"values": [
    {"x":1,"y":9.62,"s":"Compression alone"},{"x":1.156,"y":9.1,"s":"Compression alone"},{"x":1.305,"y":6.35,"s":"Compression alone"},{"x":1.414,"y":6.24,"s":"Compression alone"},{"x":1.496,"y":5.26,"s":"Compression alone"},{"x":1.622,"y":4.74,"s":"Compression alone"},{"x":2.2,"y":2.34,"s":"Compression alone"},{"x":2.58,"y":1.8,"s":"Compression alone"},{"x":4.03,"y":0.69,"s":"Compression alone"},{"x":5.89,"y":0.316,"s":"Compression alone"},{"x":9.41,"y":0.131,"s":"Compression alone"},{"x":11,"y":0.117,"s":"Compression alone"},{"x":32.3,"y":0.064,"s":"Compression alone"},{"x":339,"y":0.04,"s":"Compression alone"},
    {"x":1,"y":0.266,"s":"Compression + P3D"},{"x":1.156,"y":0.26,"s":"Compression + P3D"},{"x":1.305,"y":0.213,"s":"Compression + P3D"},{"x":1.414,"y":0.182,"s":"Compression + P3D"},{"x":1.496,"y":0.162,"s":"Compression + P3D"},{"x":1.622,"y":0.144,"s":"Compression + P3D"},{"x":2.2,"y":0.093,"s":"Compression + P3D"},{"x":2.58,"y":0.08,"s":"Compression + P3D"},{"x":4.03,"y":0.061,"s":"Compression + P3D"},{"x":5.89,"y":0.054,"s":"Compression + P3D"},{"x":9.41,"y":0.048,"s":"Compression + P3D"},{"x":11,"y":0.045,"s":"Compression + P3D"},{"x":32.3,"y":0.0426,"s":"Compression + P3D"},{"x":339,"y":0.04,"s":"Compression + P3D"}
  ]},
  "encoding": {
    "x": {"field": "x", "type": "quantitative", "scale": {"type": "log", "base": 2, "domain": [1, 512], "nice": false}, "axis": {"values": [1,2,4,8,16,32,64,128,256,512], "format": ",d", "title": "Compression level", "titleFontSize": 17, "titlePadding": 16}},
    "y": {"field": "y", "type": "quantitative", "scale": {"type": "log", "base": 2, "domain": [0.04, 11.8], "nice": false}, "axis": {"values": [0.04,0.08,0.16,0.32,0.64,1.28,2.56,5.12,10.24], "format": ".2f", "title": null}}
  },
  "layer": [
    {"mark": {"type": "line", "strokeWidth": 2}, "encoding": {"color": {"field": "s", "type": "nominal", "scale": {"domain": ["Compression alone","Compression + P3D"], "range": ["#3d8fd1","#c8574a"]}, "legend": {"orient": "none", "legendX": 72, "legendY": 12, "title": null, "symbolType": "M-1,0H-0.3M0.3,0H1M0.3,0A0.3,0.3,0,1,1,-0.3,0A0.3,0.3,0,1,1,0.3,0", "symbolSize": 441, "symbolStrokeWidth": 1.8, "rowPadding": 2, "labelOffset": 7, "encode": {"symbols": {"update": {"fill": {"signal": "datum.value == 'Compression alone' ? '#3d8fd1' : '#ffffff'"}, "stroke": {"signal": "datum.value == 'Compression alone' ? '#3d8fd1' : '#c8574a'"}}}}}}}},
    {"mark": {"type": "point", "filled": true, "size": 36, "strokeWidth": 1.2, "opacity": 1}, "encoding": {
      "fill": {"field": "s", "type": "nominal", "scale": {"domain": ["Compression alone","Compression + P3D"], "range": ["#3d8fd1","#ffffff"]}, "legend": null},
      "stroke": {"field": "s", "type": "nominal", "scale": {"domain": ["Compression alone","Compression + P3D"], "range": ["#3d8fd1","#c8574a"]}, "legend": null}}}
  ]
},
{
  "width": 258, "height": 239,
  "view": {"stroke": "#444", "strokeWidth": 1.5},
  "data": {"values": [
    {"x":1,"y":1.31,"s":"Compression alone"},{"x":1.067,"y":1.13,"s":"Compression alone"},{"x":1.764,"y":0.886,"s":"Compression alone"},{"x":2.3,"y":0.567,"s":"Compression alone"},{"x":3.81,"y":0.257,"s":"Compression alone"},{"x":5.13,"y":0.139,"s":"Compression alone"},{"x":8.08,"y":0.092,"s":"Compression alone"},{"x":9.49,"y":0.084,"s":"Compression alone"},{"x":45.6,"y":0.047,"s":"Compression alone"},{"x":68.5,"y":0.0426,"s":"Compression alone"},{"x":266,"y":0.038,"s":"Compression alone"},
    {"x":1,"y":0.29,"s":"Compression + P3D"},{"x":1.067,"y":0.269,"s":"Compression + P3D"},{"x":1.764,"y":0.08,"s":"Compression + P3D"},{"x":2.3,"y":0.065,"s":"Compression + P3D"},{"x":3.81,"y":0.053,"s":"Compression + P3D"},{"x":5.13,"y":0.048,"s":"Compression + P3D"},{"x":8.08,"y":0.045,"s":"Compression + P3D"},{"x":9.49,"y":0.044,"s":"Compression + P3D"},{"x":45.6,"y":0.04,"s":"Compression + P3D"},{"x":68.5,"y":0.039,"s":"Compression + P3D"},{"x":266,"y":0.038,"s":"Compression + P3D"}
  ]},
  "encoding": {
    "x": {"field": "x", "type": "quantitative", "scale": {"type": "log", "base": 2, "domain": [1, 512], "nice": false}, "axis": {"values": [1,2,4,8,16,32,64,128,256,512], "format": ",d", "title": null}},
    "y": {"field": "y", "type": "quantitative", "scale": {"type": "log", "base": 2, "domain": [0.03, 2.43], "nice": false}, "axis": {"values": [0.03,0.06,0.12,0.24,0.48,0.96,1.92], "format": ".2f", "title": null}}
  },
  "layer": [
    {"mark": {"type": "line", "strokeWidth": 2}, "encoding": {"color": {"field": "s", "type": "nominal", "scale": {"domain": ["Compression alone","Compression + P3D"], "range": ["#3d8fd1","#c8574a"]}, "legend": {"orient": "none", "legendX": 62, "legendY": 12, "title": null, "symbolType": "M-1,0H-0.3M0.3,0H1M0.3,0A0.3,0.3,0,1,1,-0.3,0A0.3,0.3,0,1,1,0.3,0", "symbolSize": 441, "symbolStrokeWidth": 1.8, "rowPadding": 2, "labelOffset": 7, "encode": {"symbols": {"update": {"fill": {"signal": "datum.value == 'Compression alone' ? '#3d8fd1' : '#ffffff'"}, "stroke": {"signal": "datum.value == 'Compression alone' ? '#3d8fd1' : '#c8574a'"}}}}}}}},
    {"mark": {"type": "point", "filled": true, "size": 36, "strokeWidth": 1.2, "opacity": 1}, "encoding": {
      "fill": {"field": "s", "type": "nominal", "scale": {"domain": ["Compression alone","Compression + P3D"], "range": ["#3d8fd1","#ffffff"]}, "legend": null},
      "stroke": {"field": "s", "type": "nominal", "scale": {"domain": ["Compression alone","Compression + P3D"], "range": ["#3d8fd1","#c8574a"]}, "legend": null}}}
  ]
}
]
}
